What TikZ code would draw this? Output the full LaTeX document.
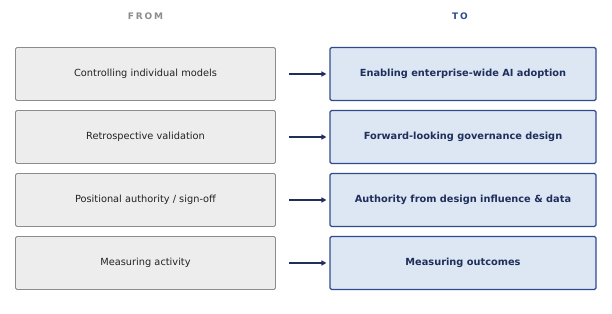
\documentclass[tikz,border=0pt]{standalone}
\usepackage{fontspec}
\setmainfont{DejaVu Sans}
\usetikzlibrary{arrows.meta}
\definecolor{fromfill}{HTML}{EDEDED}
\definecolor{fromdraw}{HTML}{8C8C8C}
\definecolor{tofill}{HTML}{DDE7F3}
\definecolor{todraw}{HTML}{2F4B8E}
\definecolor{totext}{HTML}{1F2F5C}
\definecolor{fromtext}{HTML}{222222}
\definecolor{arrowc}{HTML}{1F2F5C}
\newcommand{\spc}{\kern1.8pt}
\tikzset{
  x=1pt,y=-1pt,
  frombox/.style={draw=fromdraw,fill=fromfill,rounded corners=1.5pt,line width=0.8pt,minimum width=260pt,minimum height=53pt,inner sep=0pt,font=\fontsize{9.8}{11}\selectfont,text=fromtext},
  tobox/.style={draw=todraw,fill=tofill,rounded corners=1.5pt,line width=1.1pt,minimum width=266pt,minimum height=53pt,inner sep=0pt,font=\fontsize{9.8}{11}\selectfont\bfseries,text=totext},
  hdr/.style={font=\fontsize{9}{10}\selectfont\bfseries},
  conn/.style={-{Triangle[length=5pt,width=5pt]},draw=arrowc,line width=1.3pt}
}
\begin{document}
\begin{tikzpicture}
\useasboundingbox (0,0) rectangle (612,313);
\node[hdr,text=fromdraw] (hfrom) at (145.5,16) {F\spc R\spc O\spc M};
\node[hdr,text=todraw] (hto) at (460,16) {T\spc O};
\node[frombox] (f1) at (145.5,74) {Controlling individual models};
\node[frombox] (f2) at (145.5,137) {Retrospective validation};
\node[frombox] (f3) at (145.5,200) {Positional authority / sign-off};
\node[frombox] (f4) at (145.5,263) {Measuring activity};
\node[tobox] (t1) at (463,74) {Enabling enterprise-wide AI adoption};
\node[tobox] (t2) at (463,137) {Forward-looking governance design};
\node[tobox] (t3) at (463,200) {Authority from design influence \& data};
\node[tobox] (t4) at (463,263) {Measuring outcomes};
\foreach \i in {1,2,3,4}{
  \coordinate (s\i) at ([xshift=13pt]f\i.east);
  \coordinate (e\i) at ([xshift=-3pt]t\i.west);
  \draw[conn] (s\i) -- (e\i);
}
\end{tikzpicture}
\end{document}
